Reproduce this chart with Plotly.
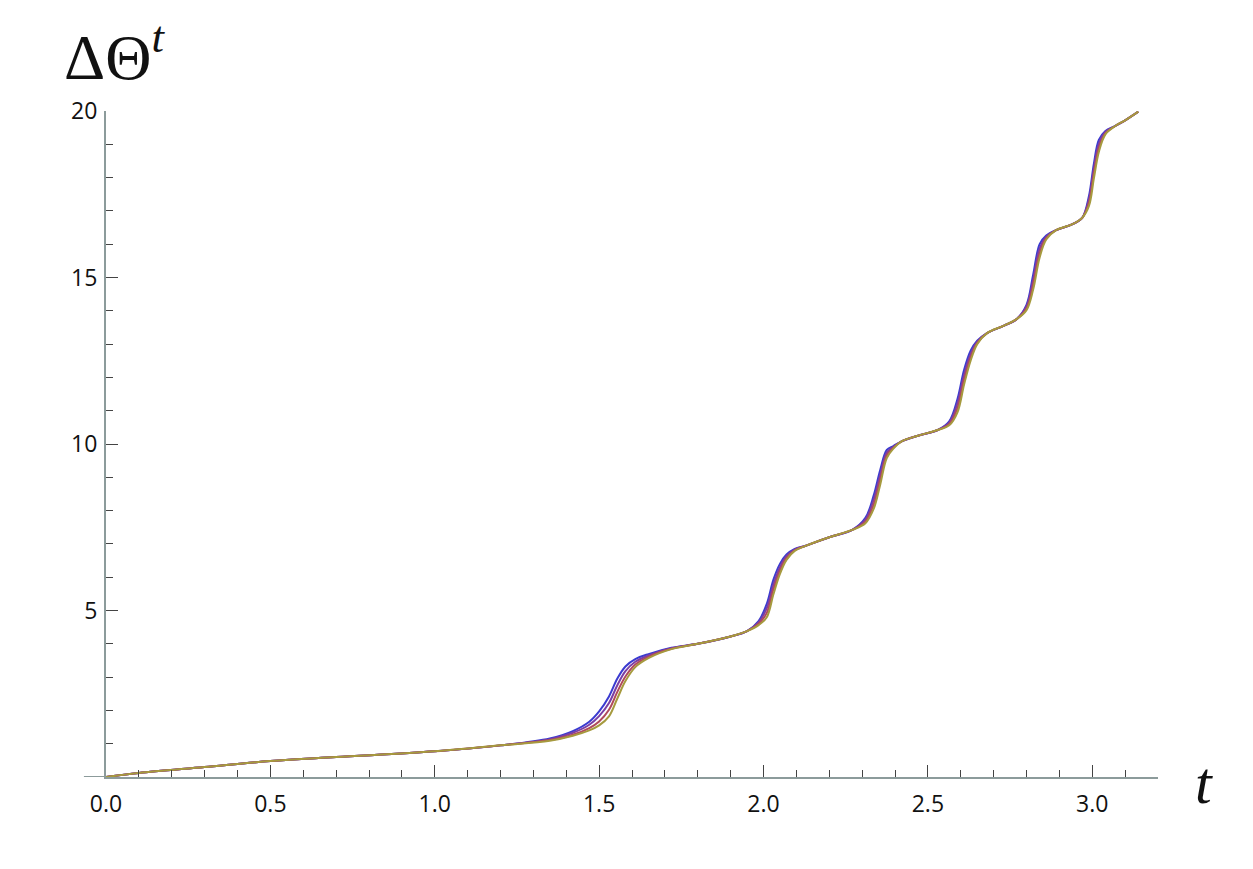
import plotly.graph_objects as go

# time values (shared by all four curves)
t_vals = [0, 0.1, 0.3, 0.5, 0.7, 1.0, 1.2, 1.35, 1.42, 1.47, 1.5, 1.53, 1.555, 1.58, 1.61,
          1.65, 1.72, 1.8, 1.9, 1.95, 1.985, 2.01, 2.03, 2.05, 2.07, 2.095, 2.13, 2.2, 2.27,
          2.31, 2.335, 2.355, 2.375, 2.395, 2.42, 2.47, 2.53, 2.565, 2.59, 2.61, 2.63, 2.65,
          2.68, 2.73, 2.77, 2.80, 2.82, 2.84, 2.86, 2.89, 2.94, 2.97, 2.99, 3.005, 3.02,
          3.04, 3.07, 3.10, 3.14]

y_blue = [0, 0.12, 0.30, 0.48, 0.60, 0.77, 0.95, 1.16, 1.38, 1.66, 1.97, 2.42, 2.95, 3.32, 3.54,
          3.69, 3.88, 4.0, 4.22, 4.38, 4.68, 5.2, 5.92, 6.4, 6.68, 6.85, 6.95, 7.2, 7.42,
          7.78, 8.45, 9.22, 9.82, 9.94, 10.08, 10.25, 10.42, 10.68, 11.35, 12.22, 12.8, 13.1,
          13.33, 13.55, 13.75, 14.18, 15.07, 16.0, 16.26, 16.42, 16.6, 16.8, 17.45, 18.42, 19.13,
          19.4, 19.55, 19.72, 19.98]

y_purple = [0, 0.12, 0.30, 0.48, 0.60, 0.77, 0.95, 1.13, 1.33, 1.57, 1.83, 2.22, 2.75, 3.18, 3.46,
            3.65, 3.87, 4.0, 4.22, 4.38, 4.64, 5.07, 5.77, 6.3, 6.63, 6.83, 6.95, 7.2, 7.42,
            7.73, 8.32, 9.07, 9.74, 9.91, 10.08, 10.25, 10.42, 10.64, 11.22, 12.07, 12.7, 13.07,
            13.33, 13.55, 13.75, 14.13, 14.92, 15.87, 16.22, 16.42, 16.6, 16.8, 17.35, 18.27, 19.01,
            19.37, 19.55, 19.72, 19.98]

y_red = [0, 0.12, 0.30, 0.48, 0.60, 0.77, 0.95, 1.11, 1.27, 1.47, 1.67, 2.02, 2.55, 3.02, 3.38,
         3.61, 3.85, 4.0, 4.22, 4.38, 4.60, 4.93, 5.63, 6.2, 6.57, 6.81, 6.95, 7.2, 7.42,
         7.67, 8.18, 8.93, 9.66, 9.89, 10.08, 10.25, 10.42, 10.60, 11.08, 11.93, 12.6, 13.03,
         13.33, 13.55, 13.75, 14.07, 14.78, 15.73, 16.18, 16.42, 16.6, 16.8, 17.25, 18.13, 18.89,
         19.33, 19.55, 19.72, 19.98]

y_olive = [0, 0.12, 0.30, 0.48, 0.60, 0.77, 0.95, 1.09, 1.24, 1.40, 1.55, 1.82, 2.35, 2.88, 3.30,
           3.57, 3.84, 4.0, 4.22, 4.38, 4.56, 4.8, 5.48, 6.1, 6.52, 6.79, 6.95, 7.2, 7.42,
           7.62, 8.05, 8.78, 9.58, 9.86, 10.08, 10.25, 10.42, 10.56, 10.95, 11.78, 12.5, 13.0,
           13.33, 13.55, 13.75, 14.02, 14.63, 15.6, 16.14, 16.42, 16.6, 16.8, 17.15, 17.98, 18.77,
           19.3, 19.55, 19.72, 19.98]

x_ticks = [0.0, 0.5, 1.0, 1.5, 2.0, 2.5, 3.0]
x_tick_text = ["0.0", "0.5", "1.0", "1.5", "2.0", "2.5", "3.0"]
y_ticks = [5, 10, 15, 20]
y_tick_text = ["5", "10", "15", "20"]

series = [
    ("blue", y_blue, "#3b3bd0"),
    ("purple", y_purple, "#7a3fa6"),
    ("red", y_red, "#b04a5c"),
    ("olive", y_olive, "#a69a3e"),
]

fig = go.Figure()
for name, ys, col in series:
    fig.add_trace(go.Scatter(x=t_vals, y=ys, mode="lines", name=name,
                             line=dict(color=col, width=2, shape="spline", smoothing=1.0),
                             showlegend=False, cliponaxis=False))

axis_col = "#8c9b9b"
tick_col = "#444444"
tick_font = dict(family="Open Sans, Lato, sans-serif", size=23, color="#111111")

fig.update_layout(
    width=1253, height=869,
    paper_bgcolor="white", plot_bgcolor="white",
    margin=dict(l=98, r=103, t=103, b=100),
    xaxis=dict(range=[0, 3.2], showgrid=False, zeroline=False,
               showline=True, linecolor=axis_col, linewidth=2,
               tickvals=x_ticks, ticktext=x_tick_text, ticks="inside",
               ticklen=12, tickwidth=1, tickcolor=tick_col,
               tickfont=tick_font, ticklabelstandoff=5,
               minor=dict(dtick=0.1, ticks="inside", ticklen=7, tickwidth=1,
                          tickcolor=tick_col, showgrid=False)),
    yaxis=dict(range=[0, 20], showgrid=False, zeroline=False,
               showline=True, linecolor=axis_col, linewidth=2,
               tickvals=y_ticks, ticktext=y_tick_text, ticks="inside",
               ticklen=12, tickwidth=1, tickcolor=tick_col,
               tickfont=tick_font, ticklabelstandoff=2,
               minor=dict(dtick=1, ticks="inside", ticklen=7, tickwidth=1,
                          tickcolor=tick_col, showgrid=False)),
)

# extension of the horizontal axis to the left of the origin
fig.add_shape(type="line", xref="paper", yref="y", x0=-0.021, x1=0, y0=0, y1=0,
              line=dict(color=axis_col, width=2))

fig.add_annotation(xref="paper", yref="paper", x=0.0, y=1.0, xshift=8, yshift=59,
                   text="ΔΘ<sup><i>t</i></sup>", showarrow=False,
                   xanchor="center", yanchor="middle",
                   font=dict(family="Liberation Serif, serif", size=64, color="#111111"))
fig.add_annotation(xref="paper", yref="y", x=1.0, y=0, xshift=46, yshift=-6,
                   text="<i>t</i>", showarrow=False, xanchor="center", yanchor="middle",
                   font=dict(family="Liberation Serif, serif", size=60, color="#111111"))

fig.write_html("out.html")
